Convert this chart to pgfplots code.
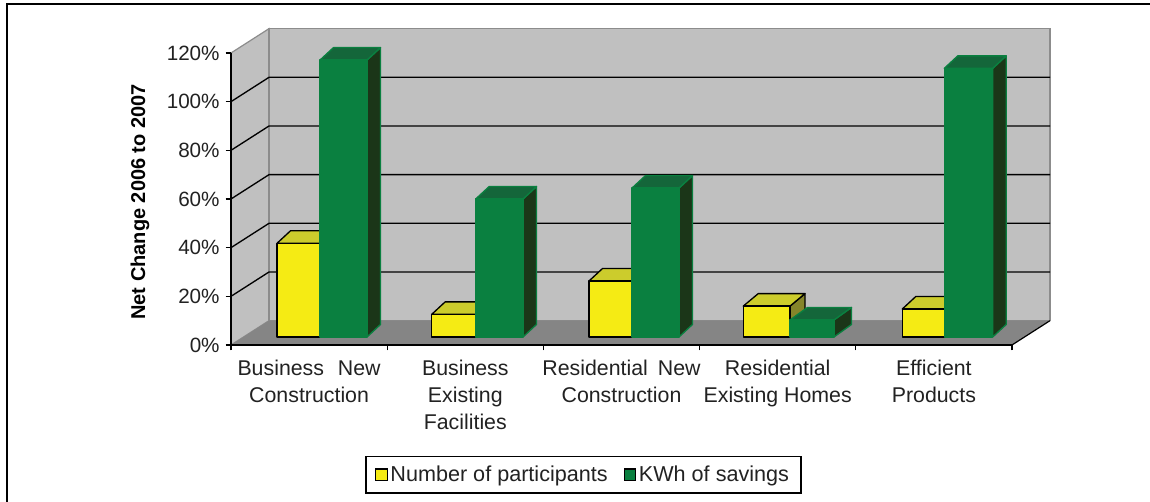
\documentclass[border=0pt]{standalone}
\usepackage{fontspec}
\setmainfont{Liberation Sans}
\usepackage{pgfplots}
\pgfplotsset{compat=1.18}
\definecolor{wall}{HTML}{C0C0C0}
\definecolor{floorc}{HTML}{858585}
\definecolor{wedge}{HTML}{8C8C8C}
\definecolor{yf}{HTML}{F5EB14}
\definecolor{yt}{HTML}{CCCC2C}
\definecolor{ys}{HTML}{85852A}
\definecolor{gf}{HTML}{0A8040}
\definecolor{gt}{HTML}{14663A}
\definecolor{gs}{HTML}{1B3618}
\definecolor{txt}{HTML}{222222}
% one bar: left x, right x, value, depth x, front, top, side, edge
\newcommand{\bartd}[8]{%
  \pgfmathsetmacro{\xa}{#1+#4}\pgfmathsetmacro{\xb}{#2+#4}\pgfmathsetmacro{\va}{#3+5.14}\pgfmathsetmacro{\ba}{5.14}%
  \addplot[forget plot,fill=#7,draw=#8,line width=1pt,line join=round,yshift=6pt] coordinates {(#2,0)(\xb,\ba)(\xb,\va)(#2,#3)} --cycle;
  \addplot[forget plot,fill=#6,draw=#8,line width=1pt,line join=round,yshift=6pt] coordinates {(#1,#3)(#2,#3)(\xb,\va)(\xa,\va)} --cycle;
  \addplot[forget plot,fill=#5,draw=#8,line width=1pt,line join=round,yshift=6pt] coordinates {(#1,0)(#2,0)(#2,#3)(#1,#3)} --cycle;
}
\begin{document}
\begin{tikzpicture}[x=0.75pt,y=0.75pt]
\useasboundingbox (0,0) rectangle (1150,502);
\fill[white] (0,0) rectangle (1150,502);
\draw[black,line width=1.4pt] (7,0) -- (7,498) -- (1150,498);
\begin{axis}[
  at={(173.25pt,117.75pt)},anchor=south west,
  scale only axis,width=585.75pt,height=219pt,
  xmin=0,xmax=5,ymin=0,ymax=120,
  clip=false,axis on top,
  axis x line*=bottom,axis y line*=left,
  axis line style={black,line width=1.1pt,-},
  xtick={0.5,1.5,2.5,3.5,4.5},
  xticklabels={{Business\hspace{6pt} New\\Construction},{Business\\Existing\\Facilities},{Residential\hspace{3pt} New\\Construction},{Residential\\Existing Homes},{Efficient\\Products}},
  minor xtick={0,1,2,3,4,5},
  major x tick style={draw=none},
  minor x tick style={black,line width=0.8pt},
  minor tick length=4pt,
  xticklabel style={align=center,font=\fontsize{16}{20}\selectfont,text=txt,yshift=-4pt},
  ytick={0,20,...,120},
  y tick style={black,line width=0.8pt},
  major tick length=4pt,tick align=outside,
  /pgf/number format/assume math mode=true,
  yticklabel={\pgfmathprintnumber{\tick}\%},
  yticklabel style={font=\fontsize{15.5}{18}\selectfont,text=txt,xshift=-1pt},
  ylabel={\bfseries Net Change 2006 to 2007},
  ylabel style={font=\fontsize{15}{18}\selectfont,at={(axis description cs:-0.1165,0.49)},anchor=center},
  legend style={at={(axis description cs:0.4513,-0.445)},anchor=center,draw=black,line width=0.9pt,font=\fontsize{16.2}{18}\selectfont,text=txt,legend columns=2,inner xsep=7pt,inner ysep=5pt,/tikz/every even column/.append style={column sep=10pt}},
  legend cell align=left,
]
% walls and floor
\addplot[forget plot,fill=wall,draw=wedge,line width=0.9pt] coordinates {(0,0)(0.2433,10)(0.2433,130)(0,120)} --cycle;
\addplot[forget plot,fill=wall,draw=wedge,line width=1pt] coordinates {(0.2433,10)(5.2433,10)(5.2433,130)(0.2433,130)} --cycle;
\addplot[forget plot,fill=floorc,draw=none] coordinates {(0,0)(0.2433,10)(5.2433,10)(5,0)} --cycle;
\addplot[forget plot,black,line width=0.9pt] coordinates {(5,0)(5.2433,10)};
% gridlines
\addplot[forget plot,black,line width=1pt] coordinates {(0,20)(0.2433,30)(5.2433,30)};
\addplot[forget plot,black,line width=1pt] coordinates {(0,40)(0.2433,50)(5.2433,50)};
\addplot[forget plot,black,line width=1pt] coordinates {(0,60)(0.2433,70)(5.2433,70)};
\addplot[forget plot,black,line width=1pt] coordinates {(0,80)(0.2433,90)(5.2433,90)};
\addplot[forget plot,black,line width=1pt] coordinates {(0,100)(0.2433,110)(5.2433,110)};
% bars
\bartd{0.2945}{0.5698}{38.5}{0.0864}{yf}{yt}{ys}{black}
\bartd{0.5698}{0.8707}{113.8}{0.0864}{gf}{gt}{gs}{gf}
\bartd{1.2849}{1.5666}{9.3}{0.0864}{yf}{yt}{ys}{black}
\bartd{1.5666}{1.8694}{56.7}{0.0864}{gf}{gt}{gs}{gf}
\bartd{2.2919}{2.5672}{23}{0.0864}{yf}{yt}{ys}{black}
\bartd{2.5672}{2.8681}{61.2}{0.0864}{gf}{gt}{gs}{gf}
\bartd{3.2797}{3.5788}{12.7}{0.0960}{yf}{yt}{ys}{black}
\bartd{3.5788}{3.8604}{7}{0.1120}{gf}{gt}{gs}{gf}
\bartd{4.2977}{4.5666}{11.5}{0.0864}{yf}{yt}{ys}{black}
\bartd{4.5666}{4.8765}{110.4}{0.0864}{gf}{gt}{gs}{gf}
\addlegendimage{legend image code/.code={\draw[fill=yf,draw=black,line width=0.9pt] (0pt,-4pt) rectangle (8.5pt,4.5pt);}}
\addlegendentry{Number of participants}
\addlegendimage{legend image code/.code={\draw[fill=gf,draw=black,line width=0.9pt] (0pt,-4pt) rectangle (8.5pt,4.5pt);}}
\addlegendentry{KWh of savings}
\end{axis}
\end{tikzpicture}
\end{document}
